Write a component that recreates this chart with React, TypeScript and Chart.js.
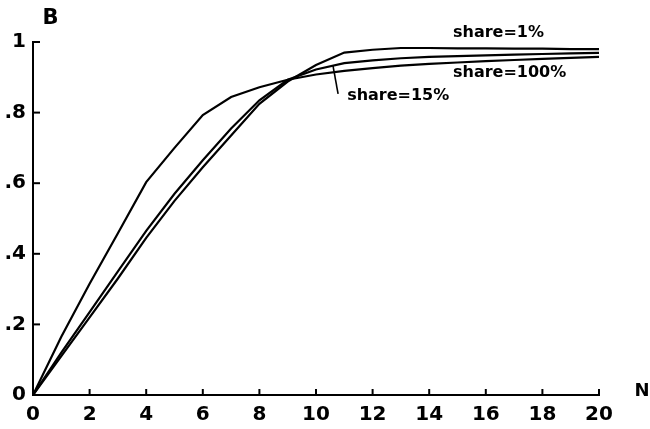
import React, { useEffect, useRef } from "react";
import { Chart, registerables } from "chart.js";

Chart.register(...registerables);

const N_VALUES = [0, 1, 2, 3, 4, 5, 6, 7, 8, 9, 10, 11, 12, 13, 14, 15, 16, 17, 18, 19, 20];
const SHARE_100 = [0, 0.165, 0.315, 0.458, 0.603, 0.7, 0.793, 0.844, 0.872, 0.893, 0.908, 0.918, 0.926, 0.933, 0.938, 0.942, 0.946, 0.949, 0.952, 0.955, 0.958];
const SHARE_15 = [0, 0.12, 0.235, 0.35, 0.465, 0.57, 0.665, 0.755, 0.835, 0.893, 0.922, 0.94, 0.948, 0.954, 0.958, 0.96, 0.962, 0.964, 0.966, 0.968, 0.969];
const SHARE_1 = [0, 0.11, 0.22, 0.33, 0.445, 0.55, 0.645, 0.735, 0.825, 0.888, 0.935, 0.97, 0.978, 0.983, 0.983, 0.982, 0.982, 0.981, 0.981, 0.98, 0.98];

const X_TICKS = [0, 2, 4, 6, 8, 10, 12, 14, 16, 18, 20];
const Y_TICKS = [0, 0.2, 0.4, 0.6, 0.8, 1];
const FONT = "DejaVu Sans";

export default function App() {
  const ref = useRef<HTMLCanvasElement>(null);

  useEffect(() => {
    const canvas = ref.current;
    if (!canvas) return;

    const pts = (ys: number[]) => N_VALUES.map((n, i) => ({ x: n, y: ys[i] }));

    const decor = {
      id: "decor",
      afterDraw(chart: any) {
        const ctx = chart.ctx;
        const xs = chart.scales.x;
        const ys = chart.scales.y;
        const px = (v: number) => xs.getPixelForValue(v);
        const py = (v: number) => ys.getPixelForValue(v);
        ctx.save();
        ctx.strokeStyle = "#000";
        ctx.lineWidth = 2;
        // inward tick marks
        X_TICKS.forEach((t) => {
          ctx.beginPath();
          ctx.moveTo(px(t), py(0));
          ctx.lineTo(px(t), py(0) - 6);
          ctx.stroke();
        });
        Y_TICKS.forEach((t) => {
          ctx.beginPath();
          ctx.moveTo(px(0), py(t));
          ctx.lineTo(px(0) + 7, py(t));
          ctx.stroke();
        });
        // pointer for share=15%
        ctx.lineWidth = 1.6;
        ctx.beginPath();
        ctx.moveTo(px(10.6), py(0.933));
        ctx.lineTo(px(10.78), py(0.853));
        ctx.stroke();

        ctx.fillStyle = "#000";
        ctx.font = `bold 16px "${FONT}"`;
        ctx.textBaseline = "middle";
        ctx.textAlign = "left";
        ctx.fillText("share=1%", px(14.84), py(1.025));
        ctx.fillText("share=100%", px(14.84), py(0.912));
        ctx.fillText("share=15%", px(11.1), py(0.847));

        ctx.textAlign = "center";
        ctx.font = `bold 21px "${FONT}"`;
        ctx.fillText("B", px(0.62), py(1.066));
        ctx.font = `bold 18px "${FONT}"`;
        ctx.fillText("N", px(21.52), py(0.01));
        ctx.restore();
      },
    };

    const chart = new Chart(canvas, {
      type: "line",
      data: {
        datasets: [
          { label: "share=100%", data: pts(SHARE_100) },
          { label: "share=15%", data: pts(SHARE_15) },
          { label: "share=1%", data: pts(SHARE_1) },
        ].map((d) => ({
          ...d,
          borderColor: "#000",
          borderWidth: 2.2,
          pointRadius: 0,
          tension: 0,
          fill: false,
        })),
      },
      options: {
        responsive: false,
        animation: false,
        devicePixelRatio: 1,
        layout: { padding: { left: 0, top: 42, right: 51, bottom: 0 } },
        plugins: { legend: { display: false }, tooltip: { enabled: false } },
        scales: {
          x: {
            type: "linear",
            min: 0,
            max: 20,
            afterFit: (s: any) => {
              s.height = 34;
            },
            afterBuildTicks: (s: any) => {
              s.ticks = X_TICKS.map((v) => ({ value: v }));
            },
            grid: { drawOnChartArea: false, drawTicks: false },
            border: { display: true, color: "#000", width: 2 },
            ticks: {
              color: "#000",
              padding: 8,
              maxRotation: 0,
              font: { family: FONT, size: 20, weight: "bold" },
              callback: (v: any) => String(v),
            },
          },
          y: {
            type: "linear",
            min: 0,
            max: 1,
            afterFit: (s: any) => {
              s.width = 33;
            },
            afterBuildTicks: (s: any) => {
              s.ticks = Y_TICKS.map((v) => ({ value: v }));
            },
            grid: { drawOnChartArea: false, drawTicks: false },
            border: { display: true, color: "#000", width: 2 },
            ticks: {
              color: "#000",
              padding: 7,
              font: { family: FONT, size: 20, weight: "bold" },
              callback: (v: any) => {
                const r = Math.round(v * 10);
                if (r === 0) return "0";
                if (r === 10) return "1";
                return "." + r;
              },
            },
          },
        },
      },
      plugins: [decor],
    });

    return () => chart.destroy();
  }, []);

  return (
    <div style={{ position: "fixed", left: 0, top: 0, width: 650, height: 429, background: "#fff" }}>
      <canvas ref={ref} width={650} height={429} style={{ width: 650, height: 429, display: "block" }} />
    </div>
  );
}
